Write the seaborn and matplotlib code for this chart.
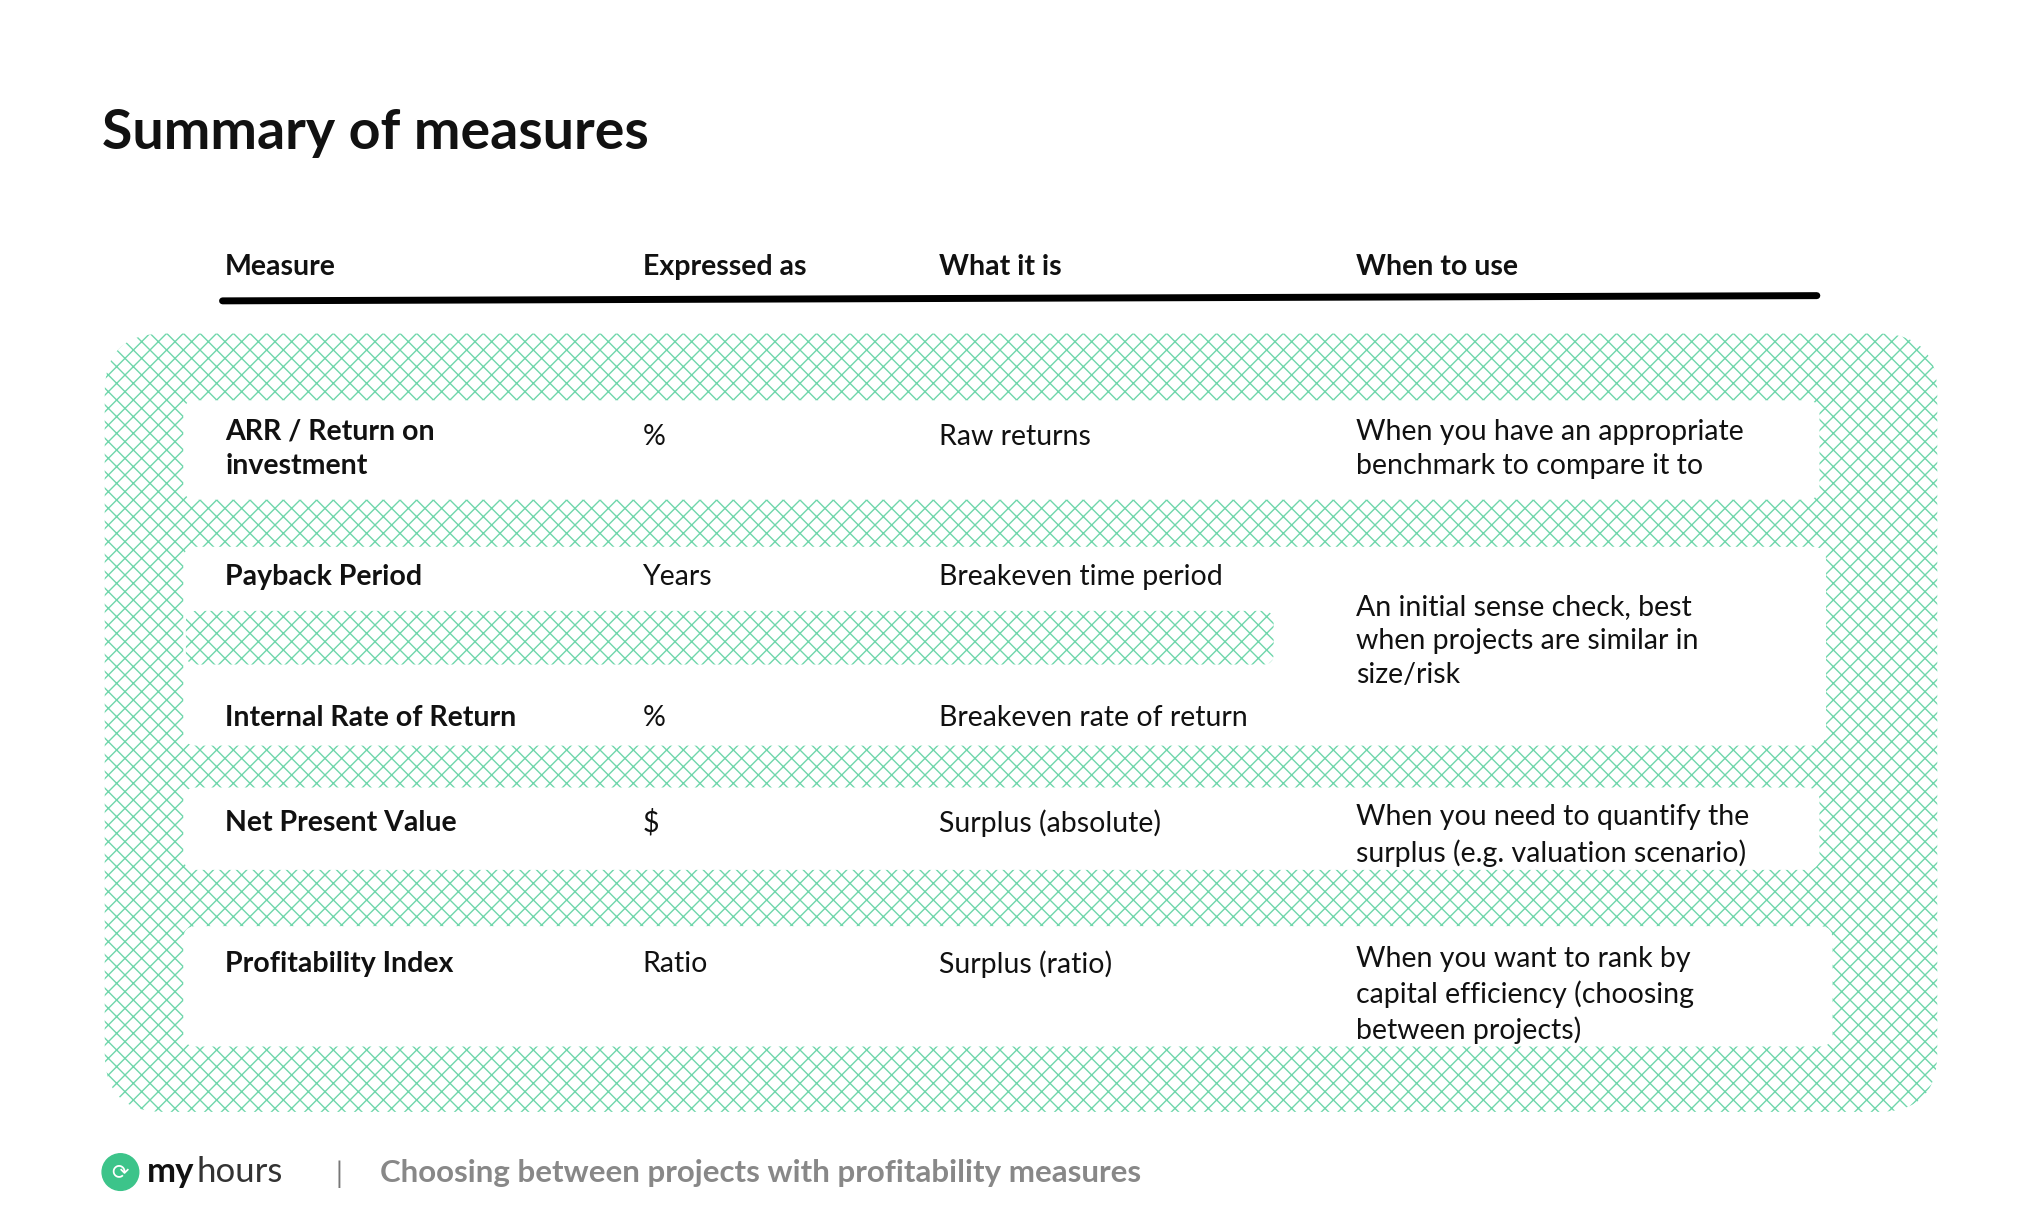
import matplotlib
matplotlib.use("Agg")
import matplotlib.pyplot as plt
from matplotlib.patches import FancyBboxPatch, Circle
import seaborn as sns
import pandas as pd

sns.set_style("white")
plt.rcParams["hatch.linewidth"] = 1.0

title = "Summary of measures"
headers = ["Measure", "Expressed as", "What it is", "When to use"]
measures = ["ARR / Return on\ninvestment", "Payback Period", "Internal Rate of Return",
            "Net Present Value", "Profitability Index"]
expressed = ["%", "Years", "%", "$", "Ratio"]
what_it_is = ["Raw returns", "Breakeven time period", "Breakeven rate of return",
              "Surplus (absolute)", "Surplus (ratio)"]
when_use = ["When you have an appropriate\nbenchmark to compare it to",
            "An initial sense check, best\nwhen projects are similar in\nsize/risk",
            "When you need to quantify the\nsurplus (e.g. valuation scenario)",
            "When you want to rank by\ncapital efficiency (choosing\nbetween projects)"]
row_y = [334, 441, 549, 629, 737]
when_y = [334, 468, 629, 737]
col_x = [172, 491, 717, 1036]
footer = "Choosing between projects with profitability measures"

W, H = 1560, 925
fig = plt.figure(figsize=(20.42, 12.10), dpi=100)
ax = fig.add_axes([0, 0, 1, 1])
ax.set_xlim(0, W); ax.set_ylim(H, 0); ax.axis("off")

FONT = "Lato"
green = "#6fd6ab"

def hatch_box(x0, y0, x1, y1, pad, z):
    ax.add_patch(FancyBboxPatch((x0, y0), x1 - x0, y1 - y0,
                 boxstyle=f"round,pad={pad}", facecolor="none", edgecolor=green,
                 hatch="xx", linewidth=0, zorder=z))

def white_box(x0, y0, x1, y1, pad, z=2):
    ax.add_patch(FancyBboxPatch((x0, y0), x1 - x0, y1 - y0,
                 boxstyle=f"round,pad={pad}", facecolor="white", edgecolor="none", zorder=z))

hatch_box(125, 300, 1435, 805, 45, 1)
white_box(150, 316, 1380, 372, 10)
white_box(150, 428, 1385, 560, 10)
white_box(150, 612, 1380, 655, 10)
white_box(150, 718, 1390, 790, 10)
hatch_box(150, 475, 965, 500, 8, 3)

# header line via seaborn
ln = pd.DataFrame({"x": [170, 1388], "y": [230, 226]})
sns.lineplot(data=ln, x="x", y="y", ax=ax, color="black", linewidth=5, legend=False)
ax.set_xlim(0, W); ax.set_ylim(H, 0); ax.axis("off")

ax.text(78, 102, title, fontsize=40, family=FONT, weight="bold", va="center", color="#111")
for x, h in zip(col_x, headers):
    ax.text(x, 204, h, fontsize=20.5, family=FONT, weight="bold", va="center", color="#111")

fs = 20.5
ls = 1.38
for i, y in enumerate(row_y):
    va = "top" if "\n" in measures[i] else "center"
    yy = y - 14 if va == "top" else y
    ax.text(col_x[0], yy, measures[i], fontsize=fs, family=FONT, weight="bold",
            va=va, linespacing=ls, color="#111", zorder=5)
    ax.text(col_x[1], y, expressed[i], fontsize=fs, family=FONT, va="center", color="#111", zorder=5)
    ax.text(col_x[2], y, what_it_is[i], fontsize=fs, family=FONT, va="center", color="#111", zorder=5)
for y, t in zip(when_y, when_use):
    ax.text(col_x[3], y - 14, t, fontsize=fs, family=FONT, va="top", linespacing=ls,
            color="#111", zorder=5)

# footer
ax.add_patch(Circle((92, 896), 14, color="#3cc48a", zorder=5))
ax.text(92, 896, "⟳", fontsize=15, color="white", ha="center", va="center", zorder=6)
ax.text(112, 896, "my", fontsize=25, family=FONT, weight="bold", va="center", color="#111")
ax.text(150, 896, "hours", fontsize=25, family=FONT, va="center", color="#333")
ax.text(256, 898, "|", fontsize=20, family=FONT, va="center", color="#777")
ax.text(290, 897, footer, fontsize=22.5, family=FONT, weight="bold", va="center", color="#888")

fig.savefig("out.png", dpi=100, facecolor="white")
